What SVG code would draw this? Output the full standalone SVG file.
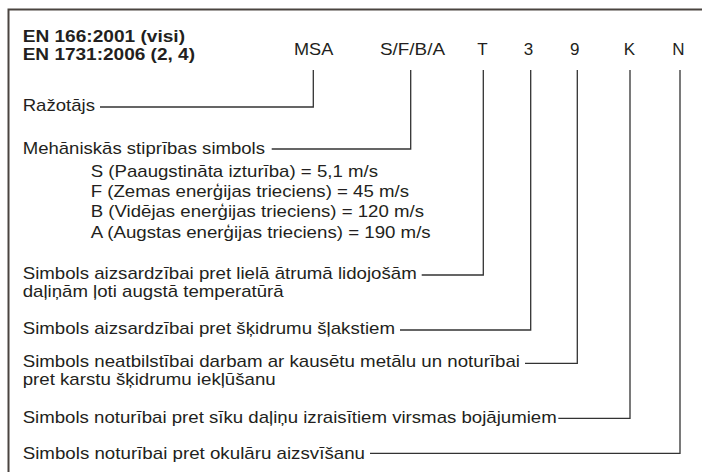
<svg xmlns="http://www.w3.org/2000/svg" width="702" height="472" viewBox="0 0 702 472">
<style>
text{font-family:"Liberation Sans",Arial,sans-serif;font-size:17px;fill:#231f20}
.b{font-weight:bold;font-size:16px}
.c{text-anchor:middle}
.ln{fill:none;stroke:#333;stroke-width:1.3}
.fr{fill:none;stroke:#4a4440;stroke-width:2}
</style>
<rect width="702" height="472" fill="#fff"/>
<path class="fr" d="M8.5,472 V9.5 H702"/>
<g id="title">
<text class="b" x="22.7" y="42" textLength="162.3" lengthAdjust="spacingAndGlyphs">EN 166:2001 (visi)</text>
<text class="b" x="22.7" y="60" textLength="172.3" lengthAdjust="spacingAndGlyphs">EN 1731:2006 (2, 4)</text>
</g>
<g id="codes">
<text x="294" y="55" textLength="39.3" lengthAdjust="spacingAndGlyphs">MSA</text>
<text x="380" y="55" textLength="65" lengthAdjust="spacingAndGlyphs">S/F/B/A</text>
<text class="c" x="482.5" y="55">T</text>
<text class="c" x="528.5" y="55">3</text>
<text class="c" x="574.7" y="55">9</text>
<text class="c" x="629.3" y="55">K</text>
<text class="c" x="678.3" y="55">N</text>
</g>
<g id="n-msa"><text x="22.7" y="111" textLength="72.3" lengthAdjust="spacingAndGlyphs">Ražotājs</text></g>
<g id="n-sfba">
<text x="22.7" y="154" textLength="242.3" lengthAdjust="spacingAndGlyphs">Mehāniskās stiprības simbols</text>
<text x="90.7" y="177" textLength="287.3" lengthAdjust="spacingAndGlyphs">S (Paaugstināta izturība) = 5,1 m/s</text>
<text x="90.7" y="197" textLength="318.3" lengthAdjust="spacingAndGlyphs">F (Zemas enerģijas trieciens) = 45 m/s</text>
<text x="90.7" y="217" textLength="333.3" lengthAdjust="spacingAndGlyphs">B (Vidējas enerģijas trieciens) = 120 m/s</text>
<text x="90.7" y="238" textLength="340" lengthAdjust="spacingAndGlyphs">A (Augstas enerģijas trieciens) = 190 m/s</text>
</g>
<g id="n-t">
<text x="22.7" y="279" textLength="394" lengthAdjust="spacingAndGlyphs">Simbols aizsardzībai pret lielā ātrumā lidojošām</text>
<text x="22.7" y="297" textLength="261" lengthAdjust="spacingAndGlyphs">daļiņām ļoti augstā temperatūrā</text>
</g>
<g id="n-3"><text x="22.7" y="334" textLength="372.3" lengthAdjust="spacingAndGlyphs">Simbols aizsardzībai pret šķidrumu šļakstiem</text></g>
<g id="n-9">
<text x="22.7" y="367" textLength="497.3" lengthAdjust="spacingAndGlyphs">Simbols neatbilstībai darbam ar kausētu metālu un noturībai</text>
<text x="22.7" y="385" textLength="253" lengthAdjust="spacingAndGlyphs">pret karstu šķidrumu iekļūšanu</text>
</g>
<g id="n-k"><text x="22.7" y="423" textLength="534" lengthAdjust="spacingAndGlyphs">Simbols noturībai pret sīku daļiņu izraisītiem virsmas bojājumiem</text></g>
<g id="n-n"><text x="22.7" y="459" textLength="342.3" lengthAdjust="spacingAndGlyphs">Simbols noturībai pret okulāru aizsvīšanu</text></g>
<g id="connectors">
<path class="ln" d="M313.3,70 V107 H100"/>
<path class="ln" d="M410.7,70 V149 H271.7"/>
<path class="ln" d="M483.3,70 V275 H421.7"/>
<path class="ln" d="M530.7,70 V330 H400"/>
<path class="ln" d="M577.3,70 V363.3 H525"/>
<path class="ln" d="M630,70 V418.3 H558.3"/>
<path class="ln" d="M680,70 V453.3 H370"/>
</g>
</svg>
